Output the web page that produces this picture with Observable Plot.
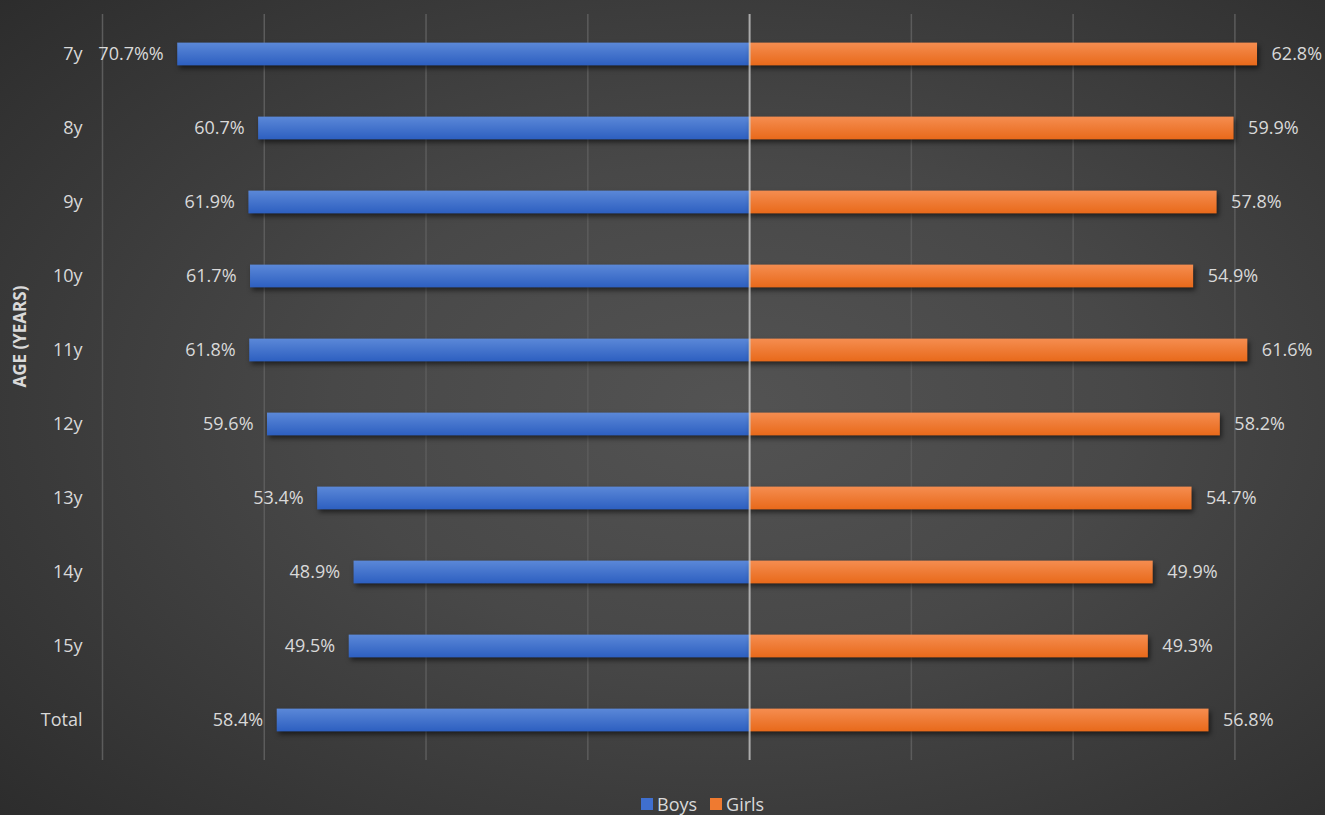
<!DOCTYPE html>
<html>
<head>
<meta charset="utf-8">
<script src="https://cdn.jsdelivr.net/npm/d3@7"></script>
<script src="https://cdn.jsdelivr.net/npm/@observablehq/plot@0.6"></script>
<style>
  html, body { margin: 0; padding: 0; }
  body {
    width: 1325px; height: 815px; overflow: hidden; position: relative;
    background: radial-gradient(ellipse 75% 75% at 55% 50%, #535353 0%, #484848 40%, #2c2c2c 100%);
    font-family: "Open Sans", sans-serif;
  }
  #chart svg [aria-label="bar"] { filter: drop-shadow(2px 3px 2.5px rgba(0,0,0,0.55)); }
  #legend {
    position: absolute; left: 641px; top: 792px; display: flex; align-items: center;
    color: #d9d9d9; font-size: 18px;
  }
  #legend .sw { width: 12px; height: 12px; display: inline-block; margin-right: 4px; }
  #legend .item { display: flex; align-items: center; margin-right: 13px; }
</style>
</head>
<body>
<svg width="0" height="0" style="position:absolute">
  <defs>
    <linearGradient id="gBoys" x1="0" y1="0" x2="0" y2="1">
      <stop offset="0" stop-color="#5b88d8"/>
      <stop offset="1" stop-color="#2d5fc0"/>
    </linearGradient>
    <linearGradient id="gGirls" x1="0" y1="0" x2="0" y2="1">
      <stop offset="0" stop-color="#f58d50"/>
      <stop offset="1" stop-color="#e8691a"/>
    </linearGradient>
  </defs>
</svg>
<div id="chart"></div>
<div id="legend">
  <span class="item"><span class="sw" style="background:#3f6fcf"></span>Boys</span>
  <span class="item"><span class="sw" style="background:#ef7a30"></span>Girls</span>
</div>
<script>
const ages = ["7y", "8y", "9y", "10y", "11y", "12y", "13y", "14y", "15y", "Total"];
const boys = [70.7, 60.7, 61.9, 61.7, 61.8, 59.6, 53.4, 48.9, 49.5, 58.4];
const girls = [62.8, 59.9, 57.8, 54.9, 61.6, 58.2, 54.7, 49.9, 49.3, 56.8];
const boysLabels = ["70.7%%", "60.7%", "61.9%", "61.7%", "61.8%", "59.6%", "53.4%", "48.9%", "49.5%", "58.4%"];
const girlsLabels = ["62.8%", "59.9%", "57.8%", "54.9%", "61.6%", "58.2%", "54.7%", "49.9%", "49.3%", "56.8%"];
const gridTicks = [-80, -60, -40, -20, 20, 40, 60];

const boysData = ages.map((age, i) => ({age, value: boys[i], label: boysLabels[i]}));
const girlsData = ages.map((age, i) => ({age, value: girls[i], label: girlsLabels[i]}));

const chart = Plot.plot({
  width: 1325,
  height: 790,
  marginLeft: 102,
  marginRight: 0,
  marginTop: 14,
  marginBottom: 30,
  style: {background: "transparent", color: "#d9d9d9", fontFamily: "Open Sans", fontSize: "18px"},
  x: {domain: [-80, 71.2], axis: null},
  y: {domain: ages, padding: 0, label: null, tickSize: 0, tickPadding: 20},
  marks: [
    Plot.ruleX(gridTicks, {stroke: "#5c5c5c", strokeWidth: 1.5}),
    Plot.barX(boysData, {y: "age", x1: 0, x2: d => -d.value, fill: "url(#gBoys)", insetTop: 25.6, insetBottom: 25.6}),
    Plot.barX(girlsData, {y: "age", x1: 0, x2: "value", fill: "url(#gGirls)", insetTop: 25.6, insetBottom: 25.6}),
    Plot.ruleX([0], {stroke: "#d0d0d0", strokeOpacity: 0.75, strokeWidth: 2}),
    Plot.text(boysData, {y: "age", x: d => -d.value, text: "label", textAnchor: "end", dx: -14, fill: "#d9d9d9", fontSize: 18}),
    Plot.text(girlsData, {y: "age", x: "value", text: "label", textAnchor: "start", dx: 14, fill: "#d9d9d9", fontSize: 18}),
    Plot.text(["AGE (YEARS)"], {frameAnchor: "left", dx: -82, rotate: -90, text: d => d, fontWeight: "bold", fontSize: 17, fill: "#d9d9d9"})
  ]
});
document.getElementById("chart").appendChild(chart);
</script>
</body>
</html>
